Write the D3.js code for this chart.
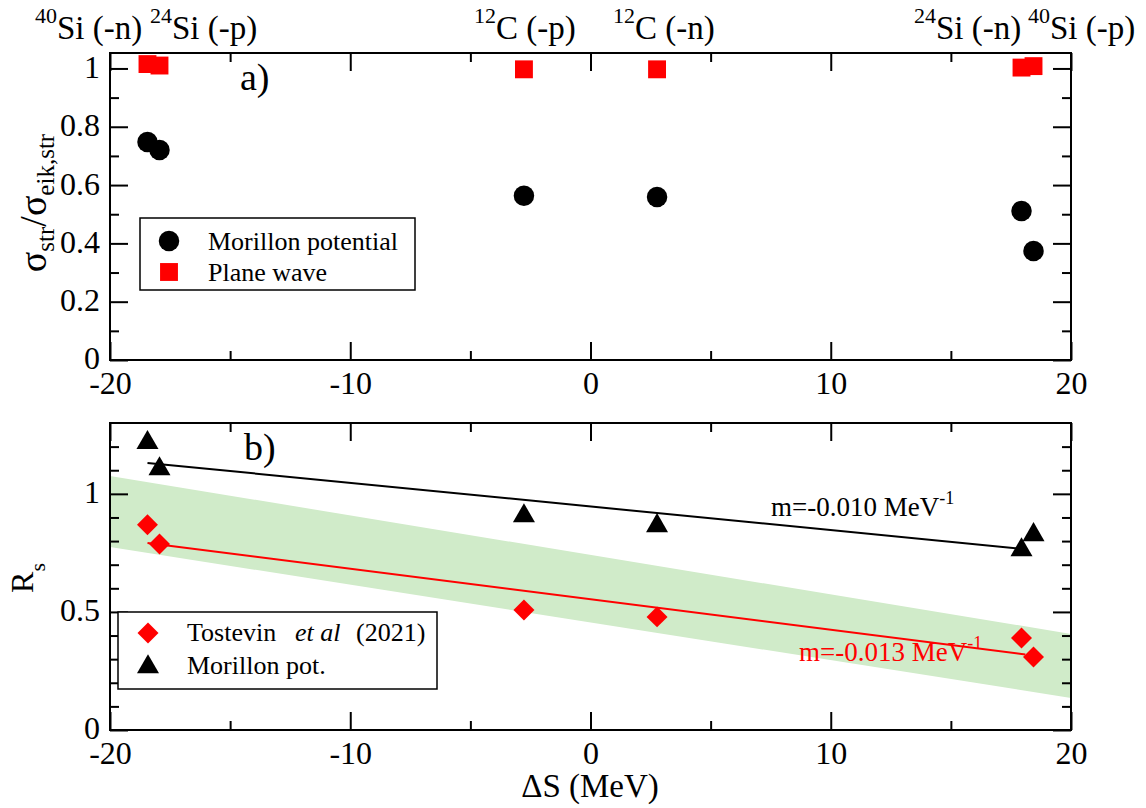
<!DOCTYPE html>
<html>
<head>
<meta charset="utf-8">
<script src="https://cdnjs.cloudflare.com/ajax/libs/d3/7.8.5/d3.min.js"></script>
<style>
  body { margin: 0; background: #fff; }
  svg { display: block; }
  svg text { font-family: "Liberation Serif", "Times New Roman", serif; }
</style>
</head>
<body>
<svg id="chart" width="1146" height="808"></svg>
<script>
// ---------------- DATA ----------------
const deltaS = [-18.44, -17.94, -2.77, 2.77, 17.94, 18.44];
// panel a)
const morillonRatio = [0.748, 0.720, 0.563, 0.559, 0.511, 0.374];
const planeWaveDS = [-18.44, -17.94, -2.77, 2.77, 17.94, 18.44];
const planeWaveRatio = [1.015, 1.010, 0.997, 0.997, 1.003, 1.008];
// panel b)
const tostevinRs = [0.869, 0.788, 0.508, 0.479, 0.390, 0.309];
const morillonRs = [1.225, 1.114, 0.915, 0.873, 0.771, 0.835];
// fit lines (endpoints)
const fitBlackX = [-18.44, 17.94];
const fitBlackY = [1.131, 0.767];
const fitRedX = [-18.44, 18.1];
const fitRedY = [0.792, 0.320];
// green systematic band (x, upper, lower)
const bandX = [-20, 20];
const bandHi = [1.076, 0.407];
const bandLo = [0.775, 0.136];
// reaction labels
const reactionLabels = [
  {mass: "40", text: "Si (-n)"},
  {mass: "24", text: "Si (-p)"},
  {mass: "12", text: "C (-p)"},
  {mass: "12", text: "C (-n)"},
  {mass: "24", text: "Si (-n)"},
  {mass: "40", text: "Si (-p)"}
];
// ticks
const xMajor = [-20, -10, 0, 10, 20];
const xMinor = [-15, -5, 5, 15];
const xLabels = ["-20", "-10", "0", "10", "20"];
const yaMajor = [0, 0.2, 0.4, 0.6, 0.8, 1];
const yaLabels = ["0", "0.2", "0.4", "0.6", "0.8", "1"];
const yaMinor = [0.1, 0.3, 0.5, 0.7, 0.9];
const ybMajor = [0, 0.5, 1];
const ybLabels = ["0", "0.5", "1"];
const ybMinor = [0.1, 0.2, 0.3, 0.4, 0.6, 0.7, 0.8, 0.9, 1.1, 1.2];

// ---------------- LAYOUT ----------------
const svg = d3.select("#chart");
svg.append("rect").attr("width", 1146).attr("height", 808).attr("fill", "#fff");

const L = 110, R = 1071;
const A = {top: 53, bottom: 360};
const B = {top: 423, bottom: 730};

const x = d3.scaleLinear().domain([-20, 20]).range([L, R]);
const ya = d3.scaleLinear().domain([0, 1.053]).range([A.bottom, A.top]);
const yb = d3.scaleLinear().domain([0, 1.30]).range([B.bottom, B.top]);

const tickFont = 32;

function frame(y, P, yMaj, yLab, yMin) {
  const g = svg.append("g");
  g.append("g").attr("transform", `translate(0,${P.bottom})`)
    .call(d3.axisBottom(x).tickValues(xMajor).tickSize(-18).tickPadding(11)
      .tickFormat((d, i) => xLabels[i]));
  g.append("g").attr("transform", `translate(0,${P.bottom})`)
    .call(d3.axisBottom(x).tickValues(xMinor).tickSize(-9).tickFormat(""));
  g.append("g").attr("transform", `translate(0,${P.top})`)
    .call(d3.axisTop(x).tickValues(xMajor).tickSize(-18).tickFormat(""));
  g.append("g").attr("transform", `translate(0,${P.top})`)
    .call(d3.axisTop(x).tickValues(xMinor).tickSize(-9).tickFormat(""));
  const ly = g.append("g").attr("transform", `translate(${L},0)`)
    .call(d3.axisLeft(y).tickValues(yMaj).tickSize(-18).tickPadding(10)
      .tickFormat((d, i) => yLab[i]));
  ly.selectAll(".tick text").attr("dy", "0.28em");
  g.append("g").attr("transform", `translate(${L},0)`)
    .call(d3.axisLeft(y).tickValues(yMin).tickSize(-9).tickFormat(""));
  g.append("g").attr("transform", `translate(${R},0)`)
    .call(d3.axisRight(y).tickValues(yMaj).tickSize(-18).tickFormat(""));
  g.append("g").attr("transform", `translate(${R},0)`)
    .call(d3.axisRight(y).tickValues(yMin).tickSize(-9).tickFormat(""));
  g.selectAll(".domain").remove();
  g.selectAll(".tick line").attr("stroke", "#000").attr("stroke-width", 2);
  g.selectAll(".tick text").attr("font-size", tickFont).attr("fill", "#000");
  g.append("rect").attr("x", L).attr("y", P.top).attr("width", R - L)
    .attr("height", P.bottom - P.top).attr("fill", "none")
    .attr("stroke", "#000").attr("stroke-width", 2);
  return g;
}

// ---------------- PANEL B background band (drawn first) ----------------
const bandData = bandX.map((d, i) => ({x: d, hi: bandHi[i], lo: bandLo[i]}));
svg.append("path").datum(bandData)
  .attr("d", d3.area().x(d => x(d.x)).y0(d => yb(d.lo)).y1(d => yb(d.hi)))
  .attr("fill", "#d0ebc9");

frame(ya, A, yaMajor, yaLabels, yaMinor);
frame(yb, B, ybMajor, ybLabels, ybMinor);

// ---------------- PANEL A marks ----------------
const circ = d3.symbol().type(d3.symbolCircle).size(330);
const sq = d3.symbol().type(d3.symbolSquare).size(320);
const tri = d3.symbol().type(d3.symbolTriangle).size(210);
const dia = d3.symbol().type(d3.symbolSquare).size(220);

svg.append("g").selectAll("path").data(planeWaveDS.map((d, i) => [d, planeWaveRatio[i]]))
  .join("path").attr("d", sq)
  .attr("transform", d => `translate(${x(d[0])},${ya(d[1])})`).attr("fill", "#ff0000");
svg.append("g").selectAll("path").data(deltaS.map((d, i) => [d, morillonRatio[i]]))
  .join("path").attr("d", circ)
  .attr("transform", d => `translate(${x(d[0])},${ya(d[1])})`).attr("fill", "#000");

// reaction labels along top
const labelX = [35, 150, 474, 613, 914, 1028];
reactionLabels.forEach((lab, i) => {
  const t = svg.append("text").attr("x", labelX[i]).attr("y", 39).attr("font-size", 33).attr("fill", "#000");
  t.append("tspan").attr("font-size", 22).attr("dy", -16).text(lab.mass);
  t.append("tspan").attr("dy", 16).text(lab.text);
});

svg.append("text").attr("x", 240).attr("y", 90).attr("font-size", 38).text("a)");

// y title panel a
{
  const t = svg.append("text").attr("transform", "translate(46,203) rotate(-90)")
    .attr("text-anchor", "middle").attr("font-size", 38).attr("fill", "#000");
  t.append("tspan").text("σ");
  t.append("tspan").attr("font-size", 25).attr("dy", 8).text("str");
  t.append("tspan").attr("dy", -8).text("/σ");
  t.append("tspan").attr("font-size", 25).attr("dy", 8).text("eik,str");
}

// legend panel a
{
  const g = svg.append("g");
  g.append("rect").attr("x", 140).attr("y", 218).attr("width", 275).attr("height", 72)
    .attr("fill", "#fff").attr("stroke", "#000").attr("stroke-width", 1.5);
  g.append("path").attr("d", circ).attr("transform", "translate(169,241)").attr("fill", "#000");
  g.append("path").attr("d", sq).attr("transform", "translate(169,272)").attr("fill", "#ff0000");
  g.append("text").attr("x", 208).attr("y", 250).attr("font-size", 26).text("Morillon potential");
  g.append("text").attr("x", 208).attr("y", 281).attr("font-size", 26).text("Plane wave");
}

// ---------------- PANEL B marks ----------------
const line = d3.line().x(d => x(d[0])).y(d => yb(d[1]));
svg.append("path").datum(fitBlackX.map((d, i) => [d, fitBlackY[i]]))
  .attr("d", line).attr("fill", "none").attr("stroke", "#000").attr("stroke-width", 2);
svg.append("path").datum(fitRedX.map((d, i) => [d, fitRedY[i]]))
  .attr("d", line).attr("fill", "none").attr("stroke", "#ff0000").attr("stroke-width", 2);

svg.append("g").selectAll("path").data(deltaS.map((d, i) => [d, tostevinRs[i]]))
  .join("path").attr("d", dia)
  .attr("transform", d => `translate(${x(d[0])},${yb(d[1])}) rotate(45)`).attr("fill", "#ff0000");
svg.append("g").selectAll("path").data(deltaS.map((d, i) => [d, morillonRs[i]]))
  .join("path").attr("d", tri)
  .attr("transform", d => `translate(${x(d[0])},${yb(d[1]) + 2})`).attr("fill", "#000");

svg.append("text").attr("x", 244).attr("y", 460).attr("font-size", 38).text("b)");

// slope annotations
{
  const t = svg.append("text").attr("x", 771).attr("y", 516).attr("font-size", 27).attr("fill", "#000");
  t.append("tspan").text("m=-0.010 MeV");
  t.append("tspan").attr("font-size", 18).attr("dy", -12).text("-1");
  const t2 = svg.append("text").attr("x", 799).attr("y", 661).attr("font-size", 27).attr("fill", "#ff0000");
  t2.append("tspan").text("m=-0.013 MeV");
  t2.append("tspan").attr("font-size", 18).attr("dy", -12).text("-1");
}

// y title panel b
{
  const t = svg.append("text").attr("transform", "translate(33,578) rotate(-90)")
    .attr("text-anchor", "middle").attr("font-size", 32).attr("fill", "#000");
  t.append("tspan").text("R");
  t.append("tspan").attr("font-size", 22).attr("dy", 12).text("s");
}

// x title
svg.append("text").attr("x", 590).attr("y", 797).attr("text-anchor", "middle")
  .attr("font-size", 33).text("ΔS (MeV)");

// legend panel b
{
  const g = svg.append("g");
  g.append("rect").attr("x", 118).attr("y", 612).attr("width", 319).attr("height", 77)
    .attr("fill", "#fff").attr("stroke", "#000").attr("stroke-width", 1.5);
  g.append("path").attr("d", dia).attr("transform", "translate(148,633) rotate(45)").attr("fill", "#ff0000");
  g.append("path").attr("d", tri).attr("transform", "translate(148,667)").attr("fill", "#000");
  const t = g.append("text").attr("x", 187).attr("y", 641).attr("font-size", 26);
  t.append("tspan").text("Tostevin");
  t.append("tspan").attr("x", 295).attr("font-style", "italic").text("et al");
  t.append("tspan").attr("x", 356).text("(2021)");
  g.append("text").attr("x", 187).attr("y", 674).attr("font-size", 26).text("Morillon pot.");
}
</script>
</body>
</html>
